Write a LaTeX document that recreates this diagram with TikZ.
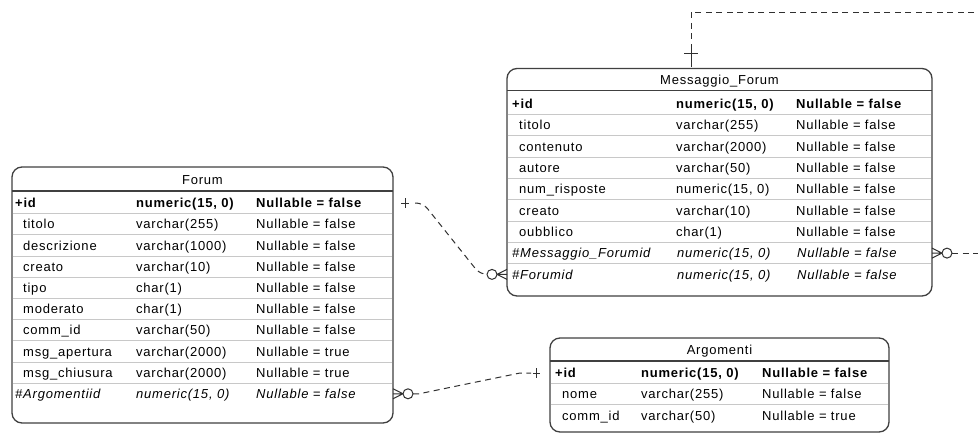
\documentclass[tikz,border=0pt]{standalone}
\usepackage{fontspec}
\setmainfont{Liberation Sans}
\newfontfamily\erfont[LetterSpace=6]{Liberation Sans}
\usetikzlibrary{calc}
\definecolor{boxc}{HTML}{404040}
\definecolor{rowc}{HTML}{C8C8C8}
\definecolor{relc}{HTML}{303030}
\newcommand\cellfont{\erfont\fontsize{13}{15}\selectfont}
\tikzset{
  erbox/.style={draw=boxc, line width=1.3pt, rounded corners=10pt, fill=white, inner sep=0pt, outer sep=0pt},
  hsep/.style={draw=boxc, line width=1.2pt},
  rsep/.style={draw=rowc, line width=1pt},
  cell/.style={anchor=base west, inner sep=0pt, font=\cellfont},
  pkcell/.style={cell, font=\cellfont\bfseries},
  fkcell/.style={cell, font=\cellfont\itshape},
  ttl/.style={anchor=base, inner sep=0pt, font=\cellfont},
  rel/.style={draw=relc, line width=1pt},
  reldash/.style={rel, dash pattern=on 6pt off 4.5pt},
}
\begin{document}
\begin{tikzpicture}[x=1pt, y=-1pt]
\useasboundingbox (0,0) rectangle (978,434);
\clip (0,0) rectangle (978,434);

% ---------------- Forum ----------------
\node[erbox, minimum width=381pt, minimum height=256pt] (forum) at (202.5,295) {};
\node[ttl] (forum-title) at (202.5,184.6) {Forum};
\draw[hsep] (12,191) -- (393,191);
\foreach \k in {0,...,8} \draw[rsep] (12.7,{213.6+21.2*\k}) -- (392.3,{213.6+21.2*\k});
\node[pkcell] (forum-n0) at (15,207.6) {+id};
\node[pkcell] (forum-t0) at (136,207.6) {numeric(15, 0)};
\node[pkcell] (forum-u0) at (256,207.6) {Nullable = false};
\foreach \a/\b/\c [count=\k] in {titolo/varchar(255)/false, descrizione/varchar(1000)/false,
    creato/varchar(10)/false, tipo/char(1)/false, moderato/char(1)/false,
    comm\_id/varchar(50)/false, msg\_apertura/varchar(2000)/true, msg\_chiusura/varchar(2000)/true} {
  \node[cell] (forum-n\k) at (23,{207.6+21.2*\k}) {\a};
  \node[cell] (forum-t\k) at (136,{207.6+21.2*\k}) {\b};
  \node[cell] (forum-u\k) at (256,{207.6+21.2*\k}) {Nullable = \c};
}
\node[fkcell] (forum-n9) at (15,398.4) {\#Argomentiid};
\node[fkcell] (forum-t9) at (136,398.4) {numeric(15, 0)};
\node[fkcell] (forum-u9) at (256,398.4) {Nullable = false};

% ---------------- Messaggio_Forum ----------------
\node[erbox, minimum width=425pt, minimum height=227.5pt] (msg) at (719.5,182.25) {};
\node[ttl] (msg-title) at (719.5,84.6) {Messaggio\_Forum};
\draw[hsep] (507,90.5) -- (932,90.5);
\foreach \k in {0,...,7} \draw[rsep] (507.7,{114.65+21.3*\k}) -- (931.3,{114.65+21.3*\k});
\node[pkcell] (msg-n0) at (512,108.6) {+id};
\node[pkcell] (msg-t0) at (676,108.6) {numeric(15, 0)};
\node[pkcell] (msg-u0) at (796,108.6) {Nullable = false};
\foreach \a/\b [count=\k] in {titolo/varchar(255), contenuto/varchar(2000), autore/varchar(50),
    num\_risposte/{numeric(15, 0)}, creato/varchar(10), oubblico/char(1)} {
  \node[cell] (msg-n\k) at (519,{108.6+21.3*\k}) {\a};
  \node[cell] (msg-t\k) at (676,{108.6+21.3*\k}) {\b};
  \node[cell] (msg-u\k) at (796,{108.6+21.3*\k}) {Nullable = false};
}
\node[fkcell] (msg-n7) at (512,257.7) {\#Messaggio\_Forumid};
\node[fkcell] (msg-t7) at (677,257.7) {numeric(15, 0)};
\node[fkcell] (msg-u7) at (797,257.7) {Nullable = false};
\node[fkcell] (msg-n8) at (512,279) {\#Forumid};
\node[fkcell] (msg-t8) at (677,279) {numeric(15, 0)};
\node[fkcell] (msg-u8) at (797,279) {Nullable = false};

% ---------------- Argomenti ----------------
\node[erbox, minimum width=339pt, minimum height=94pt] (arg) at (719.5,385) {};
\node[ttl] (arg-title) at (719.5,354.6) {Argomenti};
\draw[hsep] (550,361) -- (889,361);
\foreach \k in {0,1} \draw[rsep] (550.7,{383.6+21.25*\k}) -- (888.3,{383.6+21.25*\k});
\node[pkcell] (arg-n0) at (555,377.6) {+id};
\node[pkcell] (arg-t0) at (641,377.6) {numeric(15, 0)};
\node[pkcell] (arg-u0) at (762,377.6) {Nullable = false};
\node[cell] (arg-n1) at (562,398.85) {nome};
\node[cell] (arg-t1) at (641,398.85) {varchar(255)};
\node[cell] (arg-u1) at (762,398.85) {Nullable = false};
\node[cell] (arg-n2) at (562,420.1) {comm\_id};
\node[cell] (arg-t2) at (641,420.1) {varchar(50)};
\node[cell] (arg-u2) at (762,420.1) {Nullable = true};

% ---------------- relationship ends ----------------
\coordinate (fm-one) at (393,203);
\coordinate (fm-many) at (507,274.4);
\coordinate (af-many) at (393,393.8);
\coordinate (af-one) at (550,373);
\coordinate (mm-many) at (932,253.1);
\coordinate (mm-one) at (691,68.5);

% Forum (1) -- Messaggio_Forum (0..n)
\draw[rel] ($(fm-one)+(8,0)$) -- ($(fm-one)+(16,0)$);
\draw[rel] ($(fm-one)+(12,-5)$) -- ($(fm-one)+(12,5)$);
\draw[reldash, rounded corners=7pt] ($(fm-one)+(22,0)$) -- ($(fm-one)+(30,0)$)
  -- ($(fm-many)+(-27,0)$) -- ($(fm-many)+(-20,0)$);
\draw[rel, fill=white] ($(fm-many)+(-15,0)$) circle[radius=5pt];
\draw[rel] ($(fm-many)+(-10,0)$) -- ($(fm-many)+(0,-5)$)
  ($(fm-many)+(-10,0)$) -- (fm-many)
  ($(fm-many)+(-10,0)$) -- ($(fm-many)+(0,5)$);

% Argomenti (1) -- Forum (0..n)
\draw[rel] ($(af-many)+(10,0)$) -- ($(af-many)+(0,-5)$)
  ($(af-many)+(10,0)$) -- (af-many)
  ($(af-many)+(10,0)$) -- ($(af-many)+(0,5)$);
\draw[rel, fill=white] ($(af-many)+(15,0)$) circle[radius=5pt];
\draw[reldash] ($(af-many)+(20,0)$) -- ($(af-many)+(26,0)$)
  -- ($(af-one)+(-30,0)$) -- ($(af-one)+(-19,0)$);
\draw[rel] ($(af-one)+(-17,0)$) -- ($(af-one)+(-10,0)$);
\draw[rel] ($(af-one)+(-14,-5)$) -- ($(af-one)+(-14,5)$);

% Messaggio_Forum (1) -- Messaggio_Forum (0..n)
\draw[rel] ($(mm-many)+(10,0)$) -- ($(mm-many)+(0,-5)$)
  ($(mm-many)+(10,0)$) -- (mm-many)
  ($(mm-many)+(10,0)$) -- ($(mm-many)+(0,5)$);
\draw[rel, fill=white] ($(mm-many)+(15,0)$) circle[radius=5pt];
\draw[reldash] ($(mm-many)+(20,0)$) -- ($(mm-many)+(68,0)$)
  -- ($(mm-one)+(309,-56.5)$) -- ($(mm-one)+(0,-56.5)$) -- ($(mm-one)+(0,-19)$);
\draw[rel] ($(mm-one)+(0,-19)$) -- ($(mm-one)+(0,-2)$);
\draw[rel] ($(mm-one)+(-7,-15.5)$) -- ($(mm-one)+(7,-15.5)$);
\end{tikzpicture}
\end{document}
